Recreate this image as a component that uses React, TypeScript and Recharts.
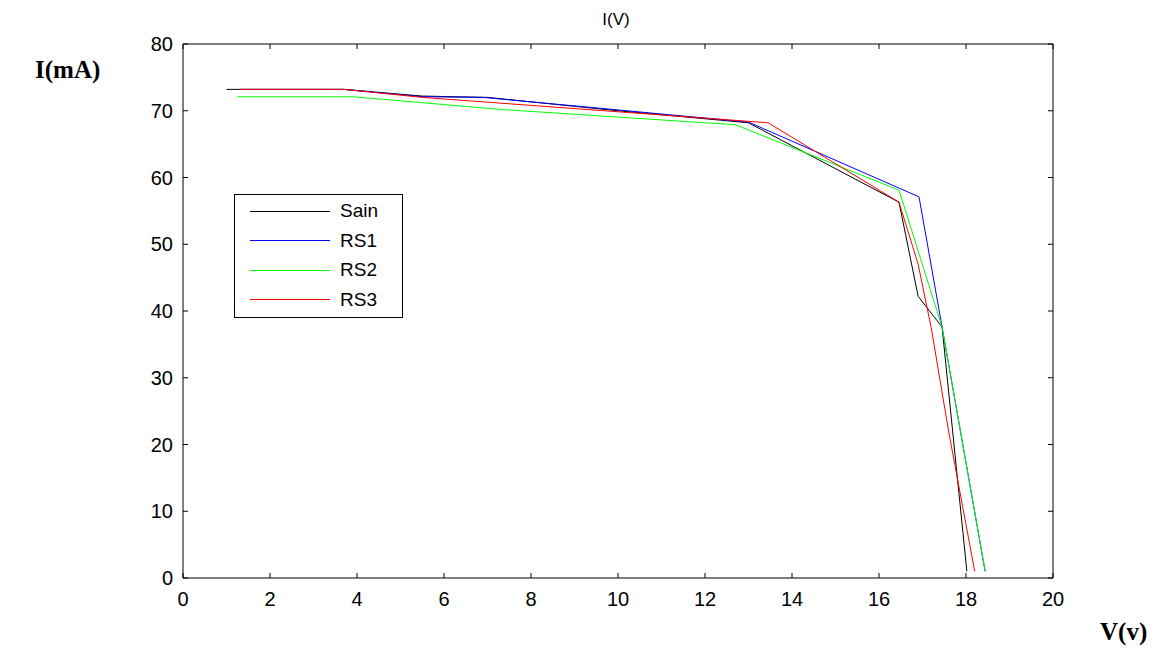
import React from 'react';
import { LineChart, Line, XAxis, YAxis, ReferenceLine } from 'recharts';

const xTicks = [0, 2, 4, 6, 8, 10, 12, 14, 16, 18, 20];
const yTicks = [0, 10, 20, 30, 40, 50, 60, 70, 80];

const sainV = [1.0, 3.7, 5.5, 7.0, 10.0, 13.0, 16.46, 16.9, 17.45, 18.02];
const sainI = [73.2, 73.2, 72.2, 72.0, 70.0, 68.2, 56.3, 42.2, 37.6, 1.0];

const rs1V = [1.3, 3.7, 5.5, 6.9, 13.0, 16.92, 17.45, 18.44];
const rs1I = [73.2, 73.2, 72.1, 72.0, 68.3, 57.1, 37.6, 1.0];

const rs2V = [1.26, 3.9, 7.3, 12.7, 16.46, 17.45, 18.44];
const rs2I = [72.1, 72.1, 70.2, 67.9, 58.1, 37.6, 1.0];

const rs3V = [1.3, 3.7, 5.5, 13.45, 16.46, 16.9, 17.2, 17.6, 18.2];
const rs3I = [73.2, 73.2, 72.0, 68.2, 56.3, 47.0, 37.5, 22.0, 1.0];

const seriesNames = ['Sain', 'RS1', 'RS2', 'RS3'];
const seriesColors = ['#000000', '#0000ff', '#00ff00', '#ff0000'];

const build = (vs: number[], is: number[]) => vs.map((v, i) => ({ v, i: is[i] }));
const seriesData = [build(sainV, sainI), build(rs1V, rs1I), build(rs2V, rs2I), build(rs3V, rs3I)];

const W = 1168;
const H = 655;
const PLOT_LEFT = 183;
const PLOT_RIGHT = 1053;
const PLOT_TOP = 44;
const PLOT_BOTTOM = 578;
const PLOT_W = PLOT_RIGHT - PLOT_LEFT;
const PLOT_H = PLOT_BOTTOM - PLOT_TOP;
const Y_AXIS_W = 60;
const X_AXIS_H = 30;
const Y_MARGIN = 10;
const X_MARGIN = 8;
const TICK = 5;
const FONT = '"Liberation Sans", Arial, sans-serif';

const YTick = (props: any) => {
  const { x, y, payload } = props;
  const ax = x + Y_MARGIN;
  return (
    <g>
      <line x1={ax} y1={y} x2={ax + TICK} y2={y} stroke="#000" />
      <line x1={ax + PLOT_W} y1={y} x2={ax + PLOT_W - TICK} y2={y} stroke="#000" />
      <text x={x} y={y} textAnchor="end" dominantBaseline="central" fontSize={20} fontFamily={FONT} fill="#000">
        {payload.value}
      </text>
    </g>
  );
};

const XTick = (props: any) => {
  const { x, y, payload } = props;
  const ay = y - X_MARGIN;
  return (
    <g>
      <line x1={x} y1={ay} x2={x} y2={ay - TICK} stroke="#000" />
      <line x1={x} y1={ay - PLOT_H} x2={x} y2={ay - PLOT_H + TICK} stroke="#000" />
      <text x={x} y={y} dy={20} textAnchor="middle" fontSize={20} fontFamily={FONT} fill="#000">
        {payload.value}
      </text>
    </g>
  );
};

const LegendBox = () => (
  <svg width={170} height={125} style={{ position: 'absolute', left: 234, top: 194 }}>
    <rect x={0.5} y={0.5} width={168} height={123} fill="#fff" stroke="#000" />
    {seriesNames.map((n, k) => {
      const ly = 16.5 + k * 29.5;
      return (
        <g key={n}>
          <line x1={16} x2={96} y1={Math.round(ly) + 0.5} y2={Math.round(ly) + 0.5} stroke={seriesColors[k]} strokeWidth={1} />
          <text x={106} y={ly} dominantBaseline="central" fontSize={19} fontFamily={FONT} fill="#000">
            {n}
          </text>
        </g>
      );
    })}
  </svg>
);

export default function App() {
  return (
    <div style={{ position: 'absolute', left: 0, top: 0, width: W, height: H, background: '#fff' }}>
      <LineChart
        width={W}
        height={H}
        margin={{ top: PLOT_TOP, right: W - PLOT_RIGHT, bottom: H - PLOT_BOTTOM - X_AXIS_H, left: PLOT_LEFT - Y_AXIS_W }}
      >
        <XAxis
          type="number"
          dataKey="v"
          domain={[0, 20]}
          ticks={xTicks}
          allowDataOverflow
          height={X_AXIS_H}
          tickLine={false}
          tickSize={0}
          tickMargin={X_MARGIN}
          axisLine={{ stroke: '#000' }}
          tick={<XTick />}
          interval={0}
        />
        <YAxis
          type="number"
          dataKey="i"
          domain={[0, 80]}
          ticks={yTicks}
          allowDataOverflow
          width={Y_AXIS_W}
          tickLine={false}
          tickSize={0}
          tickMargin={Y_MARGIN}
          axisLine={{ stroke: '#000' }}
          tick={<YTick />}
          interval={0}
        />
        <ReferenceLine y={80} stroke="#000" />
        <ReferenceLine x={20} stroke="#000" />
        {seriesData.map((d, k) => (
          <Line
            key={seriesNames[k]}
            data={d}
            dataKey="i"
            name={seriesNames[k]}
            type="linear"
            stroke={seriesColors[k]}
            strokeWidth={1}
            dot={false}
            activeDot={false}
            isAnimationActive={false}
          />
        ))}
      </LineChart>
      <LegendBox />
      <div style={{ position: 'absolute', left: 0, width: 1232, top: 10, textAlign: 'center', fontFamily: FONT, fontSize: 17 }}>I(V)</div>
      <div style={{ position: 'absolute', left: 35, top: 56, fontFamily: '"Liberation Serif", "Times New Roman", serif', fontWeight: 'bold', fontSize: 25 }}>I(mA)</div>
      <div style={{ position: 'absolute', left: 1100, top: 618, fontFamily: '"Liberation Serif", "Times New Roman", serif', fontWeight: 'bold', fontSize: 25 }}>V(v)</div>
    </div>
  );
}
